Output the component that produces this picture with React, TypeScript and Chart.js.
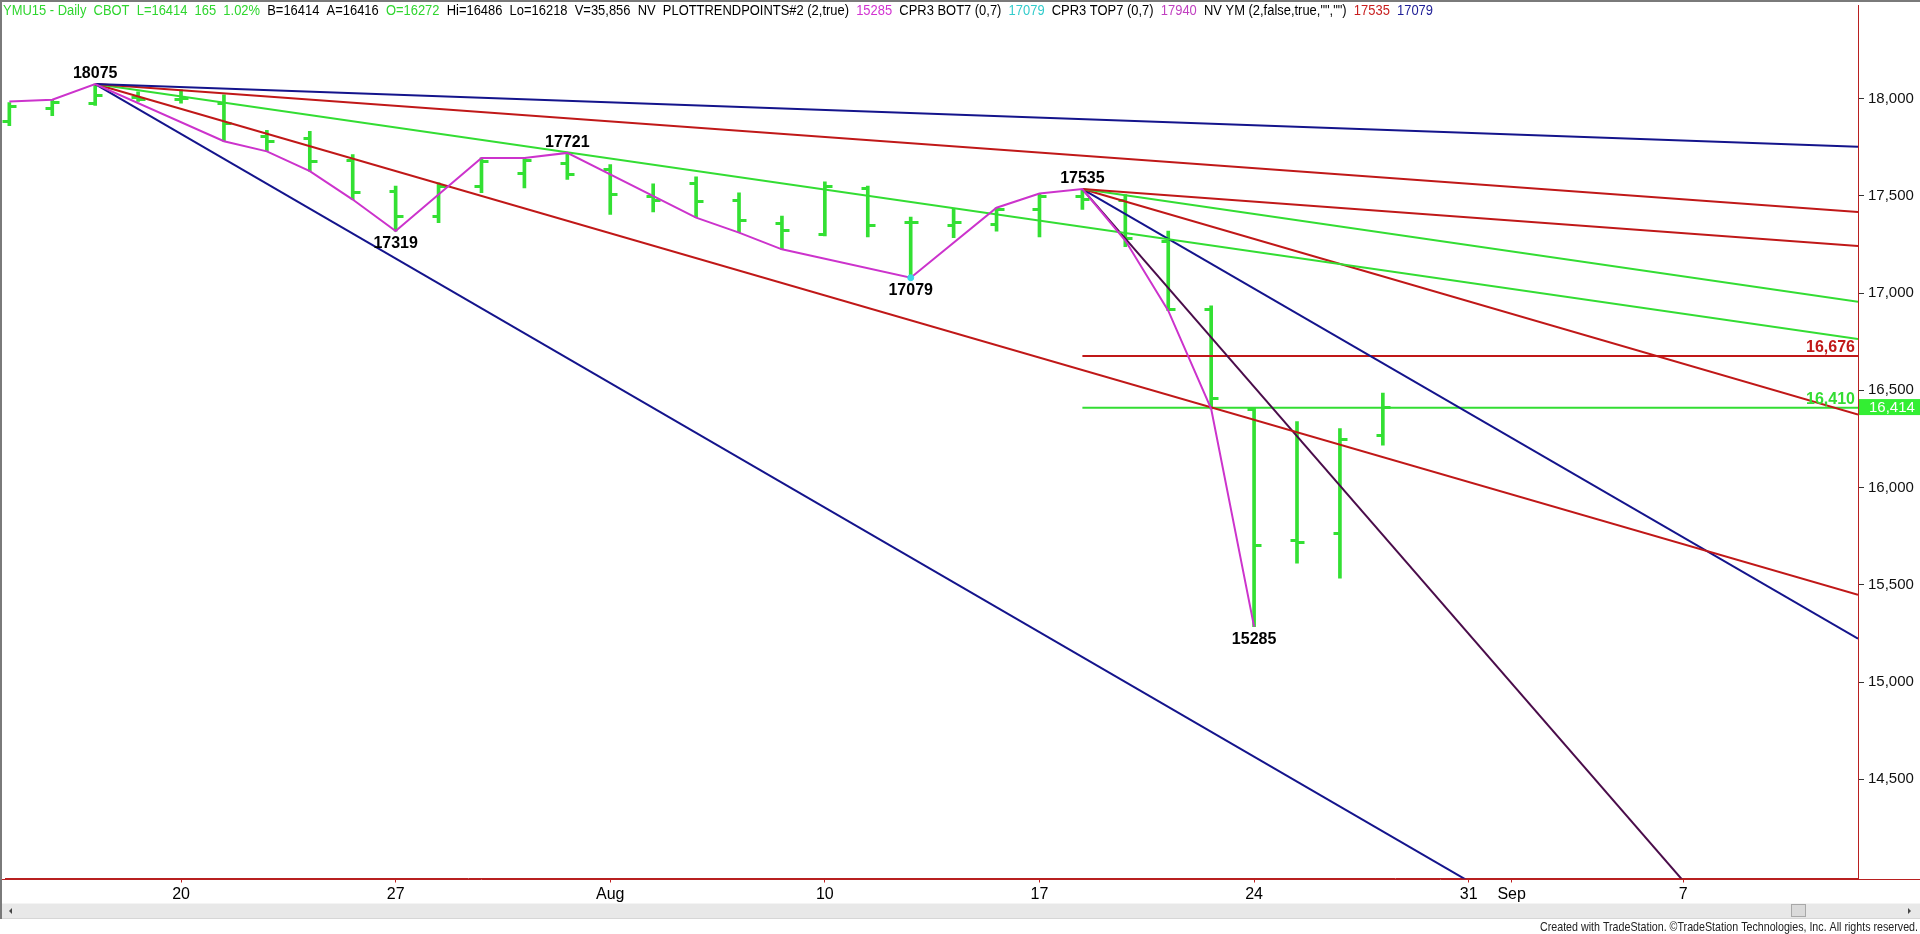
import React, { useEffect, useRef } from "react";
import { Chart, registerables } from "chart.js";
Chart.register(...registerables);

// Trading-day index 0 = Jul 14 2015 ... 32 = Aug 27 2015
const barIdx = [0,1,2,3,4,5,6,7,8,9,10,11,12,13,14,15,16,17,18,19,20,21,22,23,24,25,26,27,28,29,30,31,32];
const opens  = [17883,17951,17977,18010,18000,17977,17809,17798,17686,17524,17396,17550,17620,17670,17640,17500,17567,17478,17362,17302,17541,17366,17350,17355,17434,17500,17480,17268,16918,16405,15731,15765,16272];
const highs  = [17980,17994,18075,18035,18045,18019,17837,17832,17712,17550,17567,17695,17695,17721,17661,17562,17598,17516,17396,17572,17550,17391,17434,17439,17512,17535,17507,17319,16935,16410,16340,16303,16486];
const lows   = [17861,17912,17965,17985,17977,17781,17729,17627,17481,17319,17362,17516,17541,17584,17405,17417,17388,17311,17225,17294,17289,17079,17285,17319,17289,17430,17239,16910,16405,15285,15611,15534,16218];
const closes = [17960,17982,18019,18000,18005,17874,17781,17678,17519,17396,17550,17678,17683,17610,17512,17481,17473,17374,17323,17550,17350,17366,17366,17434,17499,17485,17285,16918,16462,15705,15722,16252,16414];

const xTickIdx = [4, 9, 14, 19, 24, 29, 34, 35, 39];
const xTickLabels = ["20", "27", "Aug", "10", "17", "24", "31", "Sep", "7"];
const yTickValues = [14500, 15000, 15500, 16000, 16500, 17000, 17500, 18000];

// trend lines: start index/value -> end index/value
const trendX1 = [2, 2, 2, 2, 2, 25, 25, 25, 25, 25, 25, 25];
const trendY1 = [18075, 18075, 18075, 18075, 18075, 17535, 17535, 17535, 17535, 17535, 16676, 16410];
const trendX2 = [43.07, 43.07, 43.07, 43.07, 43.07, 43.07, 43.07, 43.07, 43.07, 43.07, 43.07, 43.07];
const trendY2 = [17752, 17417, 16764, 15449, 12814, 17242, 16956, 16376, 15223, 12943, 16676, 16410];
const trendKind = ["blue", "red", "green", "red", "blue", "red", "green", "red", "blue", "purple", "red", "green"];

// swing (zigzag) line
const swingIdx = [0, 1, 2, 5, 6, 7, 8, 9, 11, 12, 13, 16, 17, 18, 21, 23, 24, 25, 26, 27, 28, 29];
const swingVal = [17985, 17994, 18075, 17781, 17729, 17627, 17481, 17319, 17695, 17695, 17721, 17388, 17311, 17225, 17079, 17439, 17512, 17535, 17270, 16910, 16405, 15285];

// pivot labels
const pivotIdx = [2, 9, 13, 21, 25, 29];
const pivotVal = [18075, 17319, 17721, 17079, 17535, 15285];
const pivotAbove = [true, false, true, false, true, false];

const levelLabels = ["16,676", "16,410"];
const levelValues = [16676, 16410];
const lastPrice = 16414;

const headerParts: [string, string][] = [
  ["YMU15 - Daily", "g"], ["CBOT", "g"], ["L=16414", "g"], ["165", "g"], ["1.02%", "g"],
  ["B=16414", "k"], ["A=16416", "k"], ["O=16272", "g"], ["Hi=16486", "k"], ["Lo=16218", "k"],
  ["V=35,856", "k"], ["NV", "k"], ["PLOTTRENDPOINTS#2 (2,true)", "k"], ["15285", "m"],
  ["CPR3 BOT7 (0,7)", "k"], ["17079", "c"], ["CPR3 TOP7 (0,7)", "k"], ["17940", "p"],
  ['NV YM (2,false,true,"","")', "k"], ["17535", "r"], ["17079", "n"],
];

const COLORS: Record<string, string> = {
  blue: "#14148c", red: "#c01818", green: "#33dd33", purple: "#4a0c4a",
  g: "#2fd62f", k: "#000000", m: "#d232d2", c: "#33cccc", p: "#c040c0", r: "#c81e1e", n: "#1e1e96",
};
const BAR_GREEN = "#33e033";

const App = () => {
  const ref = useRef<HTMLCanvasElement>(null);
  useEffect(() => {
    document.body.style.margin = "0";
    const canvas = ref.current!;

    const decor = {
      id: "decor",
      beforeDraw(chart: any) {
        const ctx = chart.ctx;
        ctx.save();
        ctx.fillStyle = "#ffffff";
        ctx.fillRect(0, 0, chart.width, chart.height);
        ctx.restore();
      },
      beforeDatasetsDraw(chart: any) {
        const ctx = chart.ctx;
        const xs = chart.scales.x, ys = chart.scales.y;
        ctx.save();
        ctx.strokeStyle = BAR_GREEN;
        ctx.lineWidth = 3;
        barIdx.forEach((i, k) => {
          const px = Math.round(xs.getPixelForValue(i)) + 0.5;
          const po = Math.round(ys.getPixelForValue(opens[k])) + 0.5;
          const pc = Math.round(ys.getPixelForValue(closes[k])) + 0.5;
          ctx.beginPath();
          ctx.moveTo(px - 7, po); ctx.lineTo(px, po);
          ctx.moveTo(px, pc); ctx.lineTo(px + 7, pc);
          ctx.stroke();
        });
        ctx.restore();
      },
      afterDatasetsDraw(chart: any) {
        const ctx = chart.ctx;
        const xs = chart.scales.x, ys = chart.scales.y;
        const ca = chart.chartArea;
        ctx.save();
        ctx.font = "bold 16px 'Liberation Sans', Arial, sans-serif";
        ctx.fillStyle = "#000";
        ctx.textAlign = "center";
        pivotIdx.forEach((i, k) => {
          const px = xs.getPixelForValue(i);
          const py = ys.getPixelForValue(pivotVal[k]);
          if (pivotAbove[k]) { ctx.textBaseline = "alphabetic"; ctx.fillText(String(pivotVal[k]), px, py - 6); }
          else { ctx.textBaseline = "top"; ctx.fillText(String(pivotVal[k]), px, py + 5); }
        });
        ctx.textAlign = "right";
        ctx.textBaseline = "alphabetic";
        levelLabels.forEach((t, k) => {
          ctx.fillStyle = k === 0 ? COLORS.red : COLORS.green;
          ctx.fillText(t, ca.right - 3, ys.getPixelForValue(levelValues[k]) - 4);
        });
        ctx.restore();
      },
      afterDraw(chart: any) {
        const ctx = chart.ctx;
        const ys = chart.scales.y;
        const ca = chart.chartArea;
        const W = chart.width;
        ctx.save();
        // bottom axis line extension
        ctx.strokeStyle = "#b82020";
        ctx.lineWidth = 1;
        ctx.beginPath();
        ctx.moveTo(2, Math.round(ca.bottom) + 0.5);
        ctx.lineTo(W, Math.round(ca.bottom) + 0.5);
        ctx.stroke();
        // last price box
        const yb = ys.getPixelForValue(lastPrice);
        ctx.fillStyle = "#33ee33";
        ctx.fillRect(ca.right + 1, yb - 8, W - ca.right - 1, 16);
        ctx.fillStyle = "#ffffff";
        ctx.font = "15px 'Liberation Sans', Arial, sans-serif";
        ctx.textAlign = "left";
        ctx.textBaseline = "middle";
        ctx.fillText("16,414", ca.right + 11, yb + 1);
        // borders
        ctx.fillStyle = "#7a7a7a";
        ctx.fillRect(0, 0, W, 2);
        ctx.fillRect(0, 0, 2, 919);
        // scrollbar
        ctx.fillStyle = "#e8e8e8";
        ctx.fillRect(2, 903, W - 2, 16);
        ctx.fillStyle = "#f4f4f4";
        ctx.fillRect(2, 903, W - 2, 1);
        ctx.fillStyle = "#d6d6d6";
        ctx.fillRect(2, 918, W - 2, 1);
        ctx.fillStyle = "#dadada";
        ctx.strokeStyle = "#a8a8a8";
        ctx.fillRect(1792, 905, 14, 12);
        ctx.strokeRect(1791.5, 904.5, 14, 12);
        ctx.fillStyle = "#444";
        ctx.beginPath(); ctx.moveTo(9, 911); ctx.lineTo(12, 908); ctx.lineTo(12, 914); ctx.closePath(); ctx.fill();
        ctx.beginPath(); ctx.moveTo(1911, 911); ctx.lineTo(1908, 908); ctx.lineTo(1908, 914); ctx.closePath(); ctx.fill();
        // footer
        const footer = "Created with TradeStation. \u00A9TradeStation Technologies, Inc. All rights reserved.";
        ctx.font = "13px 'Liberation Sans', Arial, sans-serif";
        ctx.textBaseline = "alphabetic";
        const fw = ctx.measureText(footer).width;
        const fs = 378 / fw;
        ctx.save();
        ctx.translate(1540, 931);
        ctx.scale(fs, 1);
        ctx.fillStyle = "#222";
        ctx.textAlign = "left";
        ctx.fillText(footer, 0, 0);
        ctx.restore();
        // header
        ctx.font = "14px 'Liberation Sans', Arial, sans-serif";
        const gap = ctx.measureText("  ").width;
        let total = 0;
        headerParts.forEach(([t], k) => { total += ctx.measureText(t).width + (k ? gap : 0); });
        const hs = 1430 / total;
        ctx.save();
        ctx.translate(3, 15);
        ctx.scale(hs, 1);
        let x = 0;
        headerParts.forEach(([t, c], k) => {
          if (k) x += gap;
          ctx.fillStyle = COLORS[c];
          ctx.fillText(t, x, 0);
          x += ctx.measureText(t).width;
        });
        ctx.restore();
        ctx.restore();
      },
    };

    const datasets: any[] = [];
    trendX1.forEach((x1, k) => {
      datasets.push({
        type: "line",
        data: [{ x: x1, y: trendY1[k] }, { x: trendX2[k], y: trendY2[k] }],
        borderColor: COLORS[trendKind[k]],
        borderWidth: 2,
        pointRadius: 0,
        tension: 0,
        order: 2,
      });
    });
    datasets.push({
      type: "line",
      data: swingIdx.map((i, k) => ({ x: i, y: swingVal[k] })),
      borderColor: "#cc33cc",
      borderWidth: 2,
      pointRadius: 0,
      tension: 0,
      order: 1,
    });
    datasets.push({
      type: "scatter",
      data: [{ x: 21, y: 17079 }],
      backgroundColor: "#3ad6e6",
      borderColor: "#3ad6e6",
      pointRadius: 3,
      order: 0,
    });
    datasets.push({
      type: "bar",
      data: barIdx.map((i, k) => ({ x: i, y: [lows[k], highs[k]] })),
      backgroundColor: BAR_GREEN,
      borderWidth: 0,
      barThickness: 3,
      grouped: false,
      order: 10,
    });

    const chart = new Chart(canvas, {
      type: "bar",
      data: { datasets },
      plugins: [decor],
      options: {
        responsive: false,
        animation: false,
        devicePixelRatio: 1,
        events: [],
        layout: { padding: { left: 2, top: 2, right: 0, bottom: 31 } },
        plugins: { legend: { display: false }, tooltip: { enabled: false } },
        scales: {
          x: {
            type: "linear",
            position: "bottom",
            min: -0.101,
            max: 43.07,
            offset: false,
            grid: { display: true, drawOnChartArea: false, offset: false, color: "#c02020", tickLength: 4 },
            border: { display: true, color: "#b82020", width: 1 },
            afterBuildTicks: (s: any) => { s.ticks = xTickIdx.map((v) => ({ value: v })); },
            afterFit: (s: any) => { s.height = 24.5; s.paddingLeft = 0; s.paddingRight = 0; },
            ticks: {
              autoSkip: false,
              maxRotation: 0,
              minRotation: 0,
              padding: 2,
              color: "#000",
              font: { family: "'Liberation Sans', Arial, sans-serif", size: 16 },
              callback: (_v: any, i: number) => xTickLabels[i],
            },
          },
          y: {
            type: "linear",
            position: "right",
            min: 13990,
            max: 18481.4,
            grid: { display: true, drawOnChartArea: false, color: "#333", tickLength: 6 },
            border: { display: true, color: "#b82020", width: 1 },
            afterBuildTicks: (s: any) => { s.ticks = yTickValues.map((v) => ({ value: v })); },
            afterFit: (s: any) => { s.width = 62; s.paddingTop = 0; s.paddingBottom = 0; },
            ticks: {
              padding: 4,
              color: "#111",
              font: { family: "'Liberation Sans', Arial, sans-serif", size: 15 },
              callback: (v: any) => Number(v).toLocaleString("en-US"),
            },
          },
        },
      } as any,
    });
    return () => chart.destroy();
  }, []);
  return (
    <div style={{ position: "absolute", left: 0, top: 0, width: 1920, height: 934, background: "#fff" }}>
      <canvas ref={ref} width={1920} height={934} style={{ display: "block", width: 1920, height: 934 }} />
    </div>
  );
};

export default App;
